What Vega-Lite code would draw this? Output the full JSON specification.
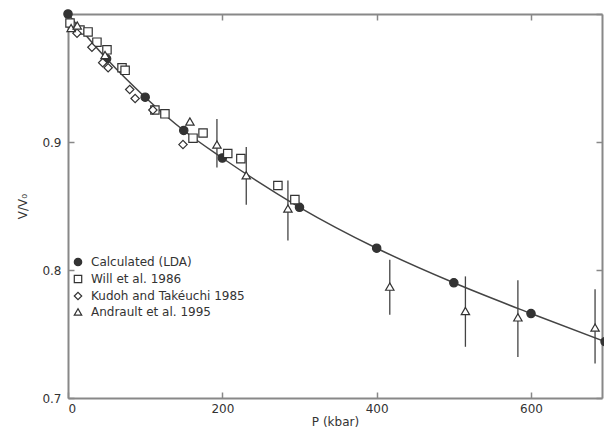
{
  "$schema": "https://vega.github.io/schema/vega-lite/v6.json",
  "width": 534,
  "height": 384,
  "autosize": {"type": "none"},
  "padding": {"left": 68, "top": 14, "right": 2, "bottom": 36},
  "config": {
    "view": {"stroke": null},
    "font": "DejaVu Sans",
    "axis": {
      "grid": false,
      "domainColor": "#888888",
      "domainWidth": 2,
      "tickColor": "#888888",
      "tickWidth": 1.5,
      "tickSize": -6,
      "labelColor": "#333333",
      "labelFontSize": 12,
      "titleColor": "#333333",
      "titleFontSize": 12,
      "titleFontWeight": "normal"
    },
    "legend": {
      "orient": "none",
      "legendX": 4,
      "legendY": 242,
      "labelFontSize": 12,
      "labelColor": "#333333",
      "symbolSize": 55,
      "symbolStrokeWidth": 1.2,
      "rowPadding": 3,
      "labelOffset": 7
    }
  },
  "datasets": {
    "calc": [
      {"P": 0, "V": 1.0},
      {"P": 50, "V": 0.965},
      {"P": 100, "V": 0.935},
      {"P": 150, "V": 0.909},
      {"P": 200, "V": 0.8875},
      {"P": 300, "V": 0.849},
      {"P": 400, "V": 0.817},
      {"P": 500, "V": 0.79},
      {"P": 600, "V": 0.766},
      {"P": 696, "V": 0.744}
    ],
    "obs": [
      {"P": 0, "V": 1.0, "series": "Calculated (LDA)"},
      {"P": 50, "V": 0.965, "series": "Calculated (LDA)"},
      {"P": 100, "V": 0.935, "series": "Calculated (LDA)"},
      {"P": 150, "V": 0.909, "series": "Calculated (LDA)"},
      {"P": 200, "V": 0.8875, "series": "Calculated (LDA)"},
      {"P": 300, "V": 0.849, "series": "Calculated (LDA)"},
      {"P": 400, "V": 0.817, "series": "Calculated (LDA)"},
      {"P": 500, "V": 0.79, "series": "Calculated (LDA)"},
      {"P": 600, "V": 0.766, "series": "Calculated (LDA)"},
      {"P": 696, "V": 0.744, "series": "Calculated (LDA)"},
      {"P": 2.6, "V": 0.993, "series": "Will et al.  1986"},
      {"P": 15.5, "V": 0.9875, "series": "Will et al.  1986"},
      {"P": 26, "V": 0.986, "series": "Will et al.  1986"},
      {"P": 37.5, "V": 0.978, "series": "Will et al.  1986"},
      {"P": 50.5, "V": 0.972, "series": "Will et al.  1986"},
      {"P": 70, "V": 0.958, "series": "Will et al.  1986"},
      {"P": 74, "V": 0.956, "series": "Will et al.  1986"},
      {"P": 112.6, "V": 0.925, "series": "Will et al.  1986"},
      {"P": 125.6, "V": 0.922, "series": "Will et al.  1986"},
      {"P": 162, "V": 0.903, "series": "Will et al.  1986"},
      {"P": 175, "V": 0.907, "series": "Will et al.  1986"},
      {"P": 207, "V": 0.891, "series": "Will et al.  1986"},
      {"P": 224, "V": 0.887, "series": "Will et al.  1986"},
      {"P": 272, "V": 0.866, "series": "Will et al.  1986"},
      {"P": 294, "V": 0.855, "series": "Will et al.  1986"},
      {"P": 11.7, "V": 0.985, "series": "Kudoh and Takéuchi  1985"},
      {"P": 31, "V": 0.974, "series": "Kudoh and Takéuchi  1985"},
      {"P": 45, "V": 0.962, "series": "Kudoh and Takéuchi  1985"},
      {"P": 52, "V": 0.958, "series": "Kudoh and Takéuchi  1985"},
      {"P": 80, "V": 0.941, "series": "Kudoh and Takéuchi  1985"},
      {"P": 87, "V": 0.934, "series": "Kudoh and Takéuchi  1985"},
      {"P": 110, "V": 0.925, "series": "Kudoh and Takéuchi  1985"},
      {"P": 149, "V": 0.898, "series": "Kudoh and Takéuchi  1985"},
      {"P": 4, "V": 0.989, "series": "Andrault et al.  1995"},
      {"P": 12, "V": 0.991, "series": "Andrault et al.  1995"},
      {"P": 48, "V": 0.968, "series": "Andrault et al.  1995"},
      {"P": 158, "V": 0.916, "series": "Andrault et al.  1995"},
      {"P": 193, "V": 0.898, "lo": 0.88, "hi": 0.918, "series": "Andrault et al.  1995"},
      {"P": 231, "V": 0.874, "lo": 0.851, "hi": 0.896, "series": "Andrault et al.  1995"},
      {"P": 285, "V": 0.848, "lo": 0.823, "hi": 0.87, "series": "Andrault et al.  1995"},
      {"P": 417, "V": 0.787, "lo": 0.765, "hi": 0.808, "series": "Andrault et al.  1995"},
      {"P": 515, "V": 0.768, "lo": 0.74, "hi": 0.795, "series": "Andrault et al.  1995"},
      {"P": 583, "V": 0.763, "lo": 0.732, "hi": 0.792, "series": "Andrault et al.  1995"},
      {"P": 683, "V": 0.755, "lo": 0.727, "hi": 0.785, "series": "Andrault et al.  1995"}
    ]
  },
  "layer": [
    {
      "data": {"name": "calc"},
      "mark": {"type": "line", "interpolate": "monotone", "stroke": "#444444", "strokeWidth": 1.5},
      "encoding": {
        "x": {"field": "P", "type": "quantitative", "scale": {"domain": [0, 692], "nice": false},
              "axis": {"orient": "top", "labels": false, "title": null, "values": [0, 200, 400, 600]}},
        "y": {"field": "V", "type": "quantitative", "scale": {"domain": [0.7, 1.0], "nice": false, "zero": false},
              "axis": {"orient": "right", "labels": false, "title": null, "values": [0.7, 0.8, 0.9, 1.0]}}
      }
    },
    {
      "data": {"name": "obs"},
      "transform": [{"filter": "isValid(datum.lo)"}],
      "mark": {"type": "rule", "stroke": "#444444", "strokeWidth": 1.3},
      "encoding": {
        "x": {"field": "P", "type": "quantitative", "axis": null},
        "y": {"field": "lo", "type": "quantitative", "axis": null},
        "y2": {"field": "hi"}
      }
    },
    {
      "data": {"name": "obs"},
      "mark": {"type": "point", "strokeWidth": 1.2, "opacity": 1, "size": 70},
      "encoding": {
        "x": {"field": "P", "type": "quantitative",
              "axis": {"orient": "bottom", "title": "P (kbar)", "values": [0, 200, 400, 600], "labelPadding": 11, "titlePadding": 2}},
        "y": {"field": "V", "type": "quantitative",
              "axis": {"orient": "left", "title": "V/V₀", "values": [0.7, 0.8, 0.9], "format": ".1f", "labelPadding": 13, "titlePadding": 12}},
        "shape": {"field": "series", "type": "nominal", "title": null,
                  "scale": {"domain": ["Calculated (LDA)", "Will et al.  1986", "Kudoh and Takéuchi  1985", "Andrault et al.  1995"],
                            "range": ["circle", "square", "diamond", "triangle-up"]}},
        "fill": {"field": "series", "type": "nominal", "title": null,
                 "scale": {"domain": ["Calculated (LDA)", "Will et al.  1986", "Kudoh and Takéuchi  1985", "Andrault et al.  1995"],
                           "range": ["#333333", "white", "white", "white"]}},
        "stroke": {"field": "series", "type": "nominal", "title": null,
                   "scale": {"domain": ["Calculated (LDA)", "Will et al.  1986", "Kudoh and Takéuchi  1985", "Andrault et al.  1995"],
                             "range": ["#333333", "#333333", "#333333", "#333333"]}}
      }
    }
  ],
  "resolve": {"axis": {"x": "independent", "y": "independent"}}
}
